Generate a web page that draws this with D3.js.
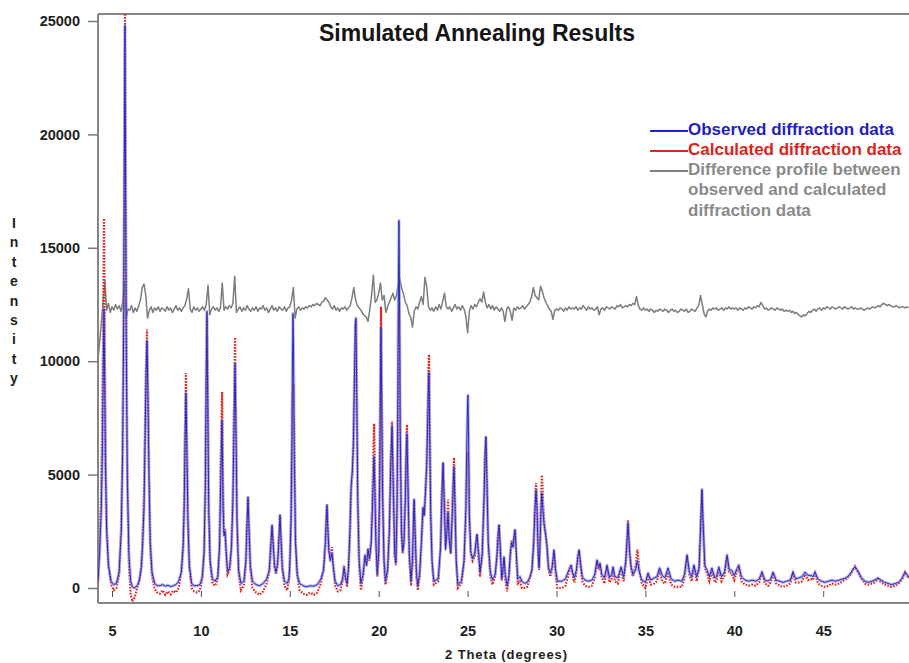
<!DOCTYPE html>
<html>
<head>
<meta charset="utf-8">
<script src="https://cdn.jsdelivr.net/npm/d3@7"></script>
<style>
  body { margin: 0; background: #fff; }
  text { font-family: Arial, "Liberation Sans", sans-serif; font-weight: bold; }
</style>
</head>
<body>
<svg id="chart" width="909" height="663"></svg>
<script>
// ---- Powder pattern: 2-theta vertices with observed and calculated counts ----
const twoTheta = [
  4.21, 4.30, 4.40, 4.47, 4.52, 4.55, 4.58, 4.63, 4.70, 4.80, 4.95, 5.10, 5.25, 5.40, 5.52, 5.60, 5.66, 5.70, 5.73, 5.76, 5.80, 5.86, 5.95, 6.05, 6.15, 6.25, 6.35,
  6.45, 6.55, 6.65, 6.72, 6.80, 6.87, 6.92, 6.97, 7.02, 7.08, 7.15, 7.25, 7.40, 7.55,
  7.70, 7.85, 8.00, 8.15, 8.30, 8.45, 8.60, 8.75,
  8.90, 9.00, 9.06, 9.11, 9.16, 9.21, 9.27, 9.35, 9.48, 9.62, 9.78, 9.95,
  10.08, 10.18, 10.25, 10.30, 10.34, 10.38, 10.44, 10.52, 10.65, 10.80,
  10.95, 11.05, 11.12, 11.19, 11.25, 11.30, 11.36, 11.42, 11.50,
  11.62, 11.72, 11.80, 11.87, 11.92, 11.97, 12.03, 12.12, 12.25,
  12.42, 12.53, 12.60, 12.65, 12.70, 12.78, 12.90,
  13.10, 13.30, 13.50, 13.70,
  13.85, 13.94, 14.00, 14.06, 14.14, 14.22, 14.32, 14.40, 14.45, 14.50, 14.58, 14.70, 14.85, 14.95,
  15.00, 15.07, 15.12, 15.15, 15.18, 15.21, 15.25, 15.32, 15.42, 15.55,
  15.75, 15.95, 16.15, 16.35, 16.55, 16.75,
  16.90, 17.00, 17.05, 17.09, 17.13, 17.20, 17.28, 17.37, 17.45, 17.55, 17.70, 17.85,
  17.97, 18.05, 18.13, 18.22, 18.30, 18.38, 18.45, 18.52, 18.58, 18.64, 18.69, 18.72, 18.76, 18.82, 18.90, 19.00,
  19.12, 19.23, 19.32, 19.40, 19.48, 19.58, 19.66, 19.71, 19.74, 19.78, 19.84, 19.92,
  20.00, 20.06, 20.10, 20.13, 20.16, 20.22, 20.30, 20.38,
  20.50, 20.60, 20.68, 20.75, 20.82, 20.90,
  20.97, 21.03, 21.08, 21.11, 21.14, 21.17, 21.21, 21.28, 21.35,
  21.42, 21.50, 21.55, 21.59, 21.64, 21.72, 21.82,
  21.90, 21.95, 21.99, 22.04, 22.12, 22.20,
  22.30, 22.40, 22.49, 22.56, 22.63, 22.70, 22.76, 22.80, 22.83, 22.86, 22.92, 23.00, 23.10,
  23.35, 23.48, 23.56, 23.62, 23.68, 23.76, 23.84, 23.90, 23.96, 24.05, 24.15, 24.20, 24.24, 24.28, 24.36, 24.45,
  24.65, 24.80, 24.90, 24.96, 25.00, 25.02, 25.05, 25.10, 25.18, 25.28,
  25.40, 25.47, 25.53, 25.60, 25.70, 25.82, 25.92, 25.98, 26.03, 26.08, 26.16, 26.28, 26.40,
  26.55, 26.65, 26.72, 26.77, 26.83, 26.92, 27.00, 27.05, 27.12, 27.22,
  27.32, 27.40, 27.47, 27.55, 27.62, 27.67, 27.72, 27.82, 27.95, 28.05,
  28.20, 28.35, 28.51, 28.62, 28.72, 28.80, 28.85, 28.90, 28.97, 29.02, 29.08, 29.14, 29.18, 29.23, 29.30, 29.40, 29.47, 29.55, 29.65, 29.75, 29.86, 29.95, 30.05,
  30.30, 30.50, 30.65, 30.75, 30.82, 30.90, 31.00, 31.12, 31.20, 31.27,
  31.35, 31.45, 31.60, 31.80, 32.00, 32.15, 32.28, 32.37, 32.45, 32.55,
  32.70, 32.84, 32.98, 33.10, 33.18, 33.28, 33.45, 33.63, 33.78, 33.90,
  34.02, 34.12, 34.20, 34.30, 34.45, 34.55, 34.66, 34.80, 35.00, 35.15,
  35.30, 35.50, 35.65, 35.80, 35.95, 36.10, 36.27, 36.45, 36.65, 36.85,
  37.05, 37.20, 37.34, 37.48, 37.60, 37.73, 37.88, 38.02, 38.12, 38.18,
  38.24, 38.34, 38.46, 38.60, 38.74, 38.90, 39.00, 39.13, 39.28, 39.45,
  39.59, 39.72, 39.85, 40.00, 40.12, 40.25, 40.40, 40.60, 40.80, 41.00,
  41.20, 41.40, 41.56, 41.72, 41.90, 42.05, 42.18, 42.35, 42.55, 42.75,
  42.95, 43.15, 43.30, 43.45, 43.65, 43.82, 43.98, 44.15, 44.30, 44.42,
  44.54, 44.70, 44.90, 45.10, 45.30, 45.50, 45.70, 45.90, 46.10, 46.30,
  46.50, 46.65, 46.79, 46.95, 47.15, 47.35, 47.55, 47.75, 47.90, 48.08,
  48.25, 48.45, 48.65, 48.85, 49.05, 49.25, 49.45, 49.60, 49.75, 49.82
];

const observed = [
  300, 1500, 3500, 6500, 10500, 12300, 10000, 5500, 2500, 1000, 300, 150, 200, 700, 2500, 6000, 12000, 20000, 24800, 19000, 11000, 5000, 1500, 300, 50, 0, 50,
  150, 400, 900, 1800, 3500, 7000, 9500, 10900, 8500, 5000, 2000, 700, 200, 100,
  100, 150, 80, 120, 60, 100, 150, 300,
  700, 1800, 3500, 6500, 8600, 6200, 3000, 1000, 200, 100, 100, 150,
  500, 1600, 4500, 9500, 12200, 9000, 3500, 1200, 400, 300,
  500, 1800, 5000, 7400, 3500, 2300, 2500, 1600, 700,
  900, 1800, 3800, 7500, 9900, 7000, 3000, 800, 200,
  300, 1200, 3000, 4000, 2800, 1000, 300,
  150, 100, 200, 400,
  800, 2000, 2750, 2000, 1000, 700, 1100, 2400, 3200, 2300, 900, 300, 200, 400,
  1000, 3000, 6500, 10000, 12100, 10500, 6000, 2000, 600, 200,
  100, 50, 100, 80, 150, 400,
  800, 2000, 3000, 3650, 2800, 1600, 1200, 1550, 900, 300, 100, 150,
  400, 900, 500, 200, 900, 2500, 4500, 5200, 6500, 9500, 11700, 11900, 9000, 4000, 1200, 200,
  600, 1450, 1000, 1700, 1300, 2000, 3800, 5200, 5800, 4500, 2000, 600,
  1500, 5000, 9500, 11500, 9000, 4000, 1200, 300,
  800, 2500, 5500, 7150, 4500, 1500,
  1100, 3500, 8500, 13500, 16200, 13000, 7000, 2500, 1600,
  2000, 4000, 6000, 6800, 4800, 1500, 300,
  1200, 2800, 3900, 2700, 700, 100,
  600, 2000, 3550, 3200, 4200, 5400, 7500, 9000, 9500, 7500, 3400, 1200, 300,
  400, 1800, 4200, 5500, 4000, 1700, 2500, 3350, 2200, 1550, 3500, 4800, 5350, 4000, 1200, 150,
  300, 1200, 3500, 6500, 8200, 8500, 7000, 3200, 1600, 1300,
  1500, 2000, 2350, 1700, 700, 1500, 3800, 5800, 6650, 5000, 2000, 700, 350,
  600, 1400, 2400, 2780, 1900, 400, 900, 1370, 600, 100,
  500, 1500, 2000, 1800, 2300, 2560, 1800, 400, 500, 300,
  200, 250, 480, 800, 2000, 3600, 4320, 3600, 1500, 900, 2000, 3700, 4190, 3500, 2800, 2300, 1810, 900, 650, 900, 1680, 800, 300,
  300, 400, 700, 900, 1010, 700, 450, 800, 1400, 1680,
  1100, 500, 350, 300, 350, 600, 1230, 900, 1100, 600,
  450, 1010, 450, 600, 930, 500, 450, 930, 500, 1200,
  2870, 1500, 930, 600, 800, 1200, 700, 350, 250, 660,
  350, 450, 500, 880, 550, 450, 880, 400, 300, 350,
  300, 600, 1460, 700, 500, 1010, 500, 900, 3000, 4350,
  3000, 1000, 800, 500, 880, 450, 500, 930, 500, 700,
  1460, 800, 790, 550, 800, 1010, 500, 350, 300, 350,
  300, 400, 700, 350, 300, 400, 700, 350, 300, 250,
  300, 350, 700, 400, 450, 500, 700, 550, 560, 500,
  700, 400, 300, 250, 300, 350, 300, 350, 400, 450,
  600, 800, 930, 750, 450, 300, 250, 300, 350, 440,
  350, 250, 200, 150, 200, 250, 450, 700, 550, 450
];

const calculated = [
  200, 1800, 4500, 9000, 13500, 16300, 12500, 6500, 2800, 1000, 150, -100, 0, 600, 2700, 6500, 13000, 21500, 25600, 20500, 12000, 5200, 1000, -300, -600, -450, -200,
  100, 350, 1000, 2400, 4000, 7400, 10000, 11400, 8800, 5100, 1800, 500, -50, -200,
  -250, -100, -300, -150, -280, -120, -200, 0,
  700, 1900, 3800, 7200, 9480, 6600, 3000, 900, 0, -150, -200, -100,
  400, 1500, 4300, 9200, 12000, 8800, 3300, 1000, 200, 100,
  400, 1900, 5800, 8650, 3800, 2400, 2600, 1500, 600,
  800, 1900, 4200, 8500, 11050, 7600, 3000, 600, -100,
  100, 1100, 3000, 4050, 2700, 800, 0,
  -200, -300, -150, 200,
  700, 1900, 2800, 2000, 900, 600, 1000, 2400, 3250, 2200, 800, 100, -100, 300,
  1000, 3000, 6000, 8000, 8600, 9000, 6500, 2200, 500, -100,
  -250, -300, -200, -300, -200, 200,
  800, 2000, 3100, 3700, 2900, 1700, 1300, 1800, 900, 100, -150, -100,
  300, 1000, 400, 50, 800, 2400, 4400, 5000, 6300, 9300, 11600, 11800, 8800, 3800, 1000, -100,
  500, 1400, 1000, 1750, 1200, 2200, 4500, 6500, 7250, 5500, 2300, 500,
  1600, 5400, 10200, 12400, 9800, 4200, 1100, 150,
  700, 2600, 5800, 7350, 4700, 1400,
  1000, 3200, 7500, 10500, 12400, 10800, 6500, 2400, 1500,
  2000, 4300, 6500, 7200, 5000, 1400, 100,
  1100, 2800, 3900, 2600, 500, -100,
  500, 1900, 3550, 3200, 4300, 5600, 8000, 9800, 10300, 8000, 3500, 1100, 150,
  300, 1800, 4300, 5550, 4000, 1800, 2900, 3900, 2400, 1500, 3600, 5100, 5750, 4200, 1200, 0,
  200, 1100, 3000, 5000, 5900, 6000, 5200, 2800, 1500, 1200,
  1400, 2000, 2400, 1600, 500, 1400, 3900, 6000, 6700, 5000, 1900, 500, 150,
  500, 1400, 2450, 2800, 1900, 300, 800, 1300, 400, -150,
  400, 1400, 2100, 1800, 2300, 2600, 1700, 200, 300, 0,
  0, 50, 450, 800, 2100, 4000, 4630, 3900, 1500, 800, 2200, 4300, 4980, 4100, 3000, 2300, 1700, 800, 500, 800, 1600, 600, 0,
  0, 100, 500, 800, 1000, 600, 250, 600, 1300, 1650,
  1000, 300, 100, 50, 100, 450, 1200, 800, 1000, 450,
  200, 950, 250, 400, 850, 300, 200, 850, 300, 1100,
  3000, 1500, 800, 500, 1000, 1700, 800, 200, 0, 500,
  150, 200, 300, 750, 300, 200, 700, 150, 50, 50,
  50, 450, 1400, 550, 300, 950, 300, 800, 3000, 4300,
  2900, 900, 650, 300, 750, 250, 300, 800, 300, 550,
  1350, 650, 650, 350, 650, 900, 300, 150, 100, 150,
  100, 250, 650, 200, 100, 250, 650, 200, 100, 50,
  100, 200, 650, 250, 250, 300, 600, 350, 400, 350,
  650, 200, 100, 50, 100, 200, 150, 200, 300, 400,
  550, 750, 950, 700, 400, 200, 150, 200, 250, 400,
  250, 150, 100, 50, 100, 200, 400, 700, 500, 400
];

// ---- Difference profile (observed - calculated, offset), sampled every 0.1 deg from 4.2 ----
const diffStart = 4.2;
const diffStep = 0.1;
const difference = [
  10000, 10800, 11700, 12600, 13550, 12250, 12550, 12150,
  12400, 12250, 12500, 12300, 12450, 12200, 12600, 13500, 11900, 12300,
  12250, 12450, 12150, 12350, 12200, 12450, 12700, 13250, 13400, 12900,
  11900, 12250, 12400, 12150, 12350, 12250, 12400, 12200, 12350, 12300,
  12200, 12400, 12250, 12350, 12150, 12300, 12450, 12250, 12350, 12200,
  12350, 12450, 12750, 13200, 12300, 12150, 12400, 12250, 12350, 12200,
  12300, 12400, 12250, 12500, 13350, 12050, 12300, 12400, 12250, 12350,
  12200, 12350, 13450, 12250, 12400, 12300, 12450, 12350, 12550, 13750,
  12150, 12300, 12400, 12200, 12350, 12250, 12450, 12300, 12200, 12350,
  12250, 12400, 12200, 12350, 12300, 12450, 12250, 12350, 12150, 12300,
  12450, 12250, 12350, 12200, 12400, 12300, 12250, 12400, 12200, 12350,
  12400, 12700, 13250, 11900, 12300, 12400, 12250, 12350, 12300, 12400,
  12350, 12450, 12400, 12500, 12450, 12550, 12500, 12450, 12600, 12650,
  12800, 12700, 12600, 12400, 12300, 12450, 12250, 12350, 12200, 12350,
  12300, 12400, 12250, 12350, 12450, 12800, 13250, 12700, 12450, 12350,
  12250, 12100, 12000, 11950, 11750, 12300, 12900, 13800, 12600, 12700,
  13000, 13450, 12700, 12900, 12150, 12400, 12600, 12800, 13000, 12700,
  12900, 13400, 13600, 13200, 12950, 12600, 12450, 12100, 11950, 11500,
  12200, 12400, 12300, 12600, 12850, 12500, 13700, 13300, 12400, 12250,
  12350, 12200, 12400, 12250, 12500, 12300, 12650, 13000, 12400, 12300,
  12400, 12200, 12350, 12500, 12300, 12400, 12250, 12450, 12300, 12000,
  11250, 12200, 12450, 12300, 12500, 12400, 12600, 12750, 12600, 13050,
  12600, 12350, 12500, 12300, 12450, 12250, 12400, 12300, 12200, 12350,
  12200, 11750, 12300, 12400, 12200, 11800, 12350, 12250, 12400, 12300,
  12350, 12450, 12300, 12400, 12500, 12600, 12850, 13250, 12900, 12800,
  12700, 13300, 13100, 12800, 12600, 12450, 12300, 12200, 11850, 12250,
  12300, 12250, 12350, 12300, 12200, 12350, 12250, 12400, 12300, 12350,
  12300, 12400, 12250, 12350, 12300, 12450, 12350, 12250, 12400, 12300,
  12350, 12250, 12300, 12400, 12050, 12300, 12350, 12250, 12400, 12350,
  12300, 12400, 12350, 12300, 12450, 12400, 12500, 12350, 12400, 12450,
  12400, 12500, 12450, 12550, 12500, 12850, 12450, 12300, 12250, 12350,
  12250, 12300, 12200, 12300, 12250, 12150, 12250, 12200, 12300, 12250,
  12200, 12300, 12250, 12150, 12250, 12300, 12200, 12250, 12150, 12200,
  12300, 12250, 12200, 12300, 12150, 12200, 12300, 12250, 12200, 12350,
  12450, 12900, 12500, 12100, 11950, 12200, 12300, 12250, 12350, 12300,
  12350, 12250, 12300, 12350, 12250, 12350, 12300, 12400, 12300, 12350,
  12300, 12350, 12250, 12350, 12300, 12250, 12350, 12300, 12400, 12350,
  12300, 12400, 12350, 12450, 12400, 12600, 12450, 12300, 12350, 12250,
  12300, 12350, 12300, 12250, 12350, 12300, 12250, 12300, 12200, 12250,
  12200, 12250, 12150, 12200, 12100, 12150, 12050, 12000, 11950, 12050,
  12000, 12100, 12200, 12150, 12250, 12300, 12200, 12300, 12350, 12250,
  12350, 12300, 12400, 12350, 12300, 12400, 12350, 12300, 12350, 12400,
  12350, 12300, 12400, 12350, 12300, 12350, 12400, 12300, 12350, 12300,
  12300, 12350, 12300, 12250, 12300, 12350, 12300, 12350, 12400, 12350,
  12400, 12450, 12400, 12500, 12550, 12500, 12450, 12500, 12450, 12400,
  12400, 12450, 12400, 12350, 12400, 12400, 12350, 12400, 12350
];

// ---- Axis ticks and text ----
const yTicks = [0, 5000, 10000, 15000, 20000, 25000];
const xTicks = [5, 10, 15, 20, 25, 30, 35, 40, 45];
const chartTitle = "Simulated Annealing Results";
const xTitle = "2 Theta (degrees)";
const yTitle = "Intensity";
const legendItems = [
  { lines: ["Observed diffraction data"], color: "#2222cc", text: "#1f1fc4" },
  { lines: ["Calculated diffraction data"], color: "#e32620", text: "#e0221c" },
  { lines: ["Difference profile between", "observed and calculated", "diffraction data"], color: "#7f7f7f", text: "#8a8a8a" }
];

// ---- Layout ----
const frame = { left: 98, top: 14, right: 909, bottom: 603 };
const svg = d3.select("#chart");

const x = d3.scaleLinear().domain([5, 45]).range([112, 823.2]);
const y = d3.scaleLinear().domain([0, 25000]).range([588, 21]);

svg.append("defs").append("clipPath").attr("id", "plotClip")
  .append("rect")
  .attr("x", frame.left).attr("y", frame.top)
  .attr("width", frame.right - frame.left).attr("height", frame.bottom - frame.top);

// Frame lines
const frameG = svg.append("g").attr("stroke", "#858585").attr("stroke-width", 2);
frameG.append("line").attr("x1", frame.left).attr("x2", frame.right).attr("y1", frame.top).attr("y2", frame.top);
frameG.append("line").attr("x1", frame.left).attr("x2", frame.left).attr("y1", frame.top).attr("y2", frame.bottom);
frameG.append("line").attr("x1", frame.left).attr("x2", frame.right).attr("y1", frame.bottom).attr("y2", frame.bottom);

// Y axis
const yAxis = svg.append("g")
  .attr("transform", `translate(${frame.left},0)`)
  .call(d3.axisLeft(y).tickValues(yTicks).tickFormat(d3.format("d")).tickSize(10).tickPadding(8));
yAxis.select(".domain").remove();
yAxis.selectAll(".tick line").attr("stroke", "#7a7a7a").attr("stroke-width", 1.5);
yAxis.selectAll(".tick text")
  .attr("fill", "#1e1e1e").style("font-size", "14.5px").style("font-family", "Arial, 'Liberation Sans', sans-serif").style("font-weight", "bold");

// X axis labels
const xAxis = svg.append("g")
  .attr("transform", `translate(0,${frame.bottom})`)
  .call(d3.axisBottom(x).tickValues(xTicks).tickSize(0).tickPadding(23));
xAxis.select(".domain").remove();
xAxis.selectAll(".tick text")
  .attr("fill", "#1e1e1e").style("font-size", "14.5px").style("font-family", "Arial, 'Liberation Sans', sans-serif").style("font-weight", "bold");

// Small inner x tick marks near the baseline
const xInner = svg.append("g")
  .attr("transform", `translate(0,597)`)
  .call(d3.axisBottom(x).tickValues(xTicks).tickSize(-6).tickFormat(""));
xInner.select(".domain").remove();
xInner.selectAll(".tick line").attr("stroke", "#555").attr("stroke-width", 1);

// Data layers
const plot = svg.append("g").attr("clip-path", "url(#plotClip)");
const line = d3.line().x(d => x(d[0])).y(d => y(d[1]));

const diffRows = difference.map((v, i) => [diffStart + i * diffStep, v]);
const obsRows = twoTheta.map((t, i) => [t, observed[i]]);
const calcRows = twoTheta.map((t, i) => [t, calculated[i]]);

plot.append("path").datum(diffRows)
  .attr("d", line).attr("fill", "none")
  .attr("stroke", "#7d7d7d").attr("stroke-width", 1.5).attr("stroke-linejoin", "round");

plot.append("path").datum(calcRows)
  .attr("d", line).attr("fill", "none")
  .attr("stroke", "#e3261e").attr("stroke-width", 2.2)
  .attr("stroke-dasharray", "1.6,1.4");

plot.append("path").datum(obsRows)
  .attr("d", line).attr("fill", "none")
  .attr("stroke", "#8a8ae6").attr("stroke-width", 3).attr("stroke-opacity", 0.6)
  .attr("stroke-linejoin", "round");

plot.append("path").datum(obsRows)
  .attr("d", line).attr("fill", "none")
  .attr("stroke", "#2a2abf").attr("stroke-width", 1).attr("stroke-linejoin", "round");

// Title
svg.append("text")
  .attr("x", 477).attr("y", 41)
  .attr("text-anchor", "middle")
  .attr("fill", "#151515")
  .style("font-size", "23px")
  .text(chartTitle);

// X axis title
svg.append("text")
  .attr("x", 445).attr("y", 659)
  .attr("fill", "#1e1e1e")
  .style("font-size", "13px")
  .style("letter-spacing", "0.9px")
  .text(xTitle);

// Y axis title, one letter per row
const yt = svg.append("text").attr("fill", "#1e1e1e").style("font-size", "14px").attr("text-anchor", "middle");
yTitle.split("").forEach((ch, i) => {
  yt.append("tspan").attr("x", 14).attr("y", 228 + i * 19.4).text(ch);
});

// Legend
const legendLineY = [131, 151, 171];
const legendTextY = [135, 155, 175];
const legendG = svg.append("g");
legendItems.forEach((item, i) => {
  legendG.append("line")
    .attr("x1", 650).attr("x2", 688)
    .attr("y1", legendLineY[i]).attr("y2", legendLineY[i])
    .attr("stroke", item.color).attr("stroke-width", 2);
  item.lines.forEach((t, j) => {
    legendG.append("text")
      .attr("x", 688).attr("y", legendTextY[i] + j * 20.3)
      .attr("fill", item.text)
      .style("font-size", "17px")
      .text(t);
  });
});
</script>
</body>
</html>
